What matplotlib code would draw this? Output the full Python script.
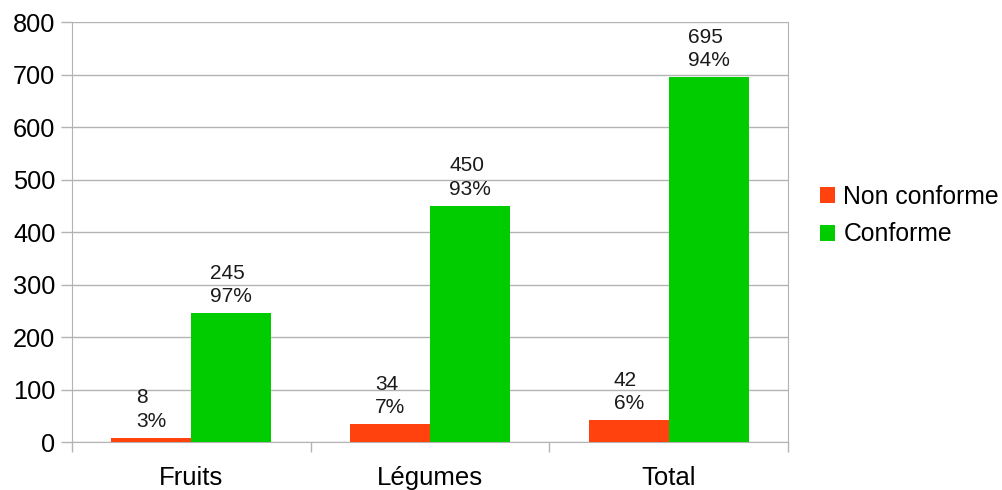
import numpy as np
import matplotlib
matplotlib.use("Agg")
import matplotlib.pyplot as plt

plt.rcParams['font.family'] = ['Liberation Sans', 'DejaVu Sans']

categories = ["Fruits", "Légumes", "Total"]
non_conforme = [8, 34, 42]
conforme = [245, 450, 695]
pct_non = ["3%", "7%", "6%"]
pct_conf = ["97%", "93%", "94%"]
yticks = [0, 100, 200, 300, 400, 500, 600, 700, 800]

red = "#ff420e"
green = "#00cc00"
gray = "#b3b3b3"

fig = plt.figure(figsize=(10.02, 4.90), dpi=100)
ax = fig.add_axes([72/1002, 1-442/490, (788-72)/1002, (442-22)/490])

x = np.arange(len(categories))
w = 0.335
b1 = ax.bar(x - w/2, non_conforme, w, color=red, label="Non conforme", zorder=3)
b2 = ax.bar(x + w/2, conforme, w, color=green, label="Conforme", zorder=3)

for i in range(len(categories)):
    ax.annotate("%d\n%s" % (non_conforme[i], pct_non[i]), (x[i] - w/2, non_conforme[i]),
                xytext=(0, 5), textcoords="offset points", ha="center", va="bottom",
                multialignment="left", fontsize=15, color="#1a1a1a", linespacing=1.3)
    ax.annotate("%d\n%s" % (conforme[i], pct_conf[i]), (x[i] + w/2, conforme[i]),
                xytext=(0, 5), textcoords="offset points", ha="center", va="bottom",
                multialignment="left", fontsize=15, color="#1a1a1a", linespacing=1.3)

ax.set_xlim(-0.5, 2.5)
ax.set_ylim(0, 800)
ax.set_yticks(yticks)
ax.tick_params(axis="y", labelsize=18.3, length=8, color=gray, width=1, pad=4)
ax.set_xticks([-0.5, 0.5, 1.5, 2.5])
ax.set_xticklabels([])
ax.tick_params(axis="x", length=7, color=gray, width=1)
ax.set_xticks(x, minor=True)
ax.set_xticklabels(categories, minor=True)
ax.tick_params(axis="x", which="minor", length=0, labelsize=18.5, pad=17)
ax.yaxis.grid(True, color=gray, linewidth=1, zorder=0)
for s in ax.spines.values():
    s.set_color(gray)
ax.spines["top"].set_visible(False)

fig.legend(handles=[b1, b2], loc="upper left", bbox_to_anchor=(810/1002, 1-175/490),
           frameon=False, fontsize=17.8, handlelength=0.6, handleheight=0.6,
           handletextpad=0.35, labelspacing=0.55, borderaxespad=0)

fig.savefig("out.png", dpi=100)
